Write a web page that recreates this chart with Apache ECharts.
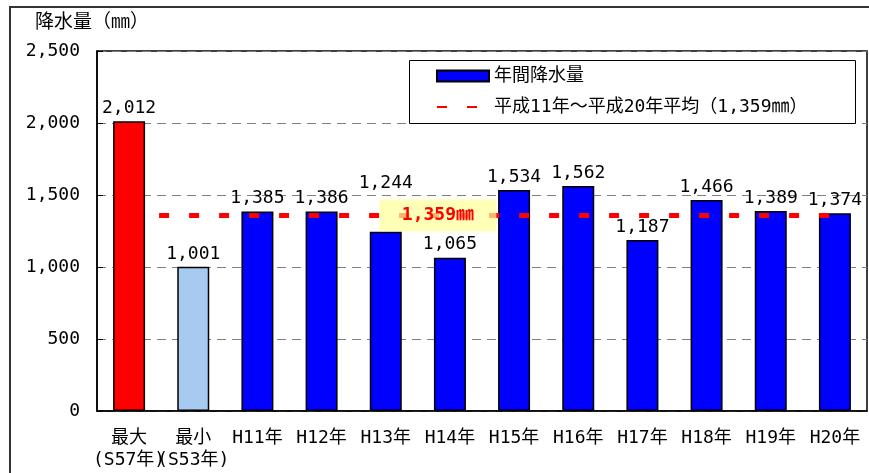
<!DOCTYPE html>
<html>
<head>
<meta charset="utf-8">
<script src="https://cdn.jsdelivr.net/npm/echarts@6/dist/echarts.min.js"></script>
<style>
  html, body { margin: 0; padding: 0; background: #fff; }
  #chart { width: 869px; height: 473px; }
</style>
</head>
<body>
<div id="chart"></div>
<script>
// Annual rainfall: record max / min years and H11–H20
const categories = ['最大\n(S57年)', '最小\n(S53年)', 'H11年', 'H12年', 'H13年', 'H14年',
                    'H15年', 'H16年', 'H17年', 'H18年', 'H19年', 'H20年'];
const rainfall = [2012, 1001, 1385, 1386, 1244, 1065, 1534, 1562, 1187, 1466, 1389, 1374];
const averageRain = 1359;
const yTicks = [0, 500, 1000, 1500, 2000, 2500];

const barName = '年間降水量';
const avgName = '平成11年～平成20年平均（1,359㎜）';
const yAxisTitle = '降水量（㎜）';

// bar fills: max year, min year, then the regular years
const barColors = ['#FF0000', '#A6CAF0'];
const baseBarColor = '#0000FF';
// value labels lifted clear of the average-value badge (by bar index, px)
const labelLift = { 4: 36 };

// monospaced latin + CJK fallback for kanji
const FONT = '"DejaVu Sans Mono", "Noto Sans CJK JP", monospace';
const fmt = v => Number(v).toLocaleString('en-US');

const chart = echarts.init(document.getElementById('chart'), null, { renderer: 'canvas' });

chart.setOption({
  animation: false,
  backgroundColor: '#fff',
  textStyle: { fontFamily: FONT },
  grid: {
    left: 97, right: 2, top: 51, bottom: 62,
    show: true, borderColor: '#000', borderWidth: 1.5, backgroundColor: 'transparent'
  },
  graphic: [
    { type: 'rect', z: 0, silent: true,
      shape: { x: 10, y: 7, width: 900, height: 500 },
      style: { fill: 'none', stroke: '#333', lineWidth: 2 } },
    { type: 'text', z: 10, silent: true, left: 35, top: 14,
      style: { text: yAxisTitle, fontSize: 19, fontFamily: FONT, fill: '#000' } },
    { type: 'rect', z: 10, silent: true,
      shape: { x: 409.5, y: 60.5, width: 446, height: 63 },
      style: { fill: '#fff', stroke: '#000', lineWidth: 1 } }
  ],
  legend: {
    z: 12,
    orient: 'vertical',
    left: 436, top: 65,
    padding: 0,
    itemWidth: 52, itemHeight: 11, itemGap: 9,
    textStyle: { fontSize: 18, lineHeight: 22, color: '#000', fontFamily: FONT },
    data: [
      { name: barName, icon: 'rect' },
      { name: avgName, itemStyle: { opacity: 0 } }
    ]
  },
  xAxis: {
    type: 'category',
    data: categories,
    axisLine: { lineStyle: { color: '#000', width: 1.5 } },
    axisTick: { show: false },
    axisLabel: { color: '#000', fontSize: 18, lineHeight: 22, margin: 16, fontFamily: FONT, interval: 0 }
  },
  yAxis: {
    type: 'value',
    min: yTicks[0], max: yTicks[yTicks.length - 1], interval: 500,
    axisLine: { show: true, lineStyle: { color: '#000', width: 1.5 } },
    axisTick: { show: true, inside: true, length: 6, lineStyle: { color: '#000', width: 1 } },
    axisLabel: { color: '#000', fontSize: 18, margin: 17, fontFamily: FONT, formatter: fmt },
    splitLine: { show: true, lineStyle: { color: '#808080', width: 1, type: [9, 6] } }
  },
  series: [
    {
      name: barName,
      type: 'bar',
      barWidth: 32,
      itemStyle: { color: baseBarColor, borderColor: '#000', borderWidth: 1.5 },
      data: rainfall.map((v, i) => ({
        value: v,
        itemStyle: { color: barColors[i] || baseBarColor },
        label: { distance: 4 + (labelLift[i] || 0) }
      })),
      label: {
        show: true, position: 'top', distance: 4,
        color: '#000', fontSize: 18, fontFamily: FONT,
        formatter: p => fmt(p.value)
      }
    },
    {
      name: avgName,
      type: 'line',
      symbol: 'none',
      data: [],
      lineStyle: { color: '#FF0000', width: 5, type: [10, 20] },
      itemStyle: { color: '#FF0000' },
      markLine: {
        z: 5,
        silent: true,
        symbol: ['none', 'none'],
        label: { show: false },
        lineStyle: { color: '#FF0000', width: 5, type: [10, 20], cap: 'butt' },
        data: [[{ coord: [0, averageRain] }, { coord: [categories.length - 1, averageRain] }]]
      },
      markPoint: {
        z: 6,
        silent: true,
        symbol: 'rect',
        symbolSize: [117, 32],
        symbolOffset: [-12, 0],
        itemStyle: { color: 'rgba(255,255,153,0.7)' },
        label: {
          show: true, position: 'inside',
          color: '#FF0000', fontSize: 18, fontWeight: 'bold', fontFamily: FONT,
          formatter: () => fmt(averageRain) + '㎜'
        },
        data: [{ coord: [5, averageRain] }]
      }
    }
  ]
});
</script>
</body>
</html>
